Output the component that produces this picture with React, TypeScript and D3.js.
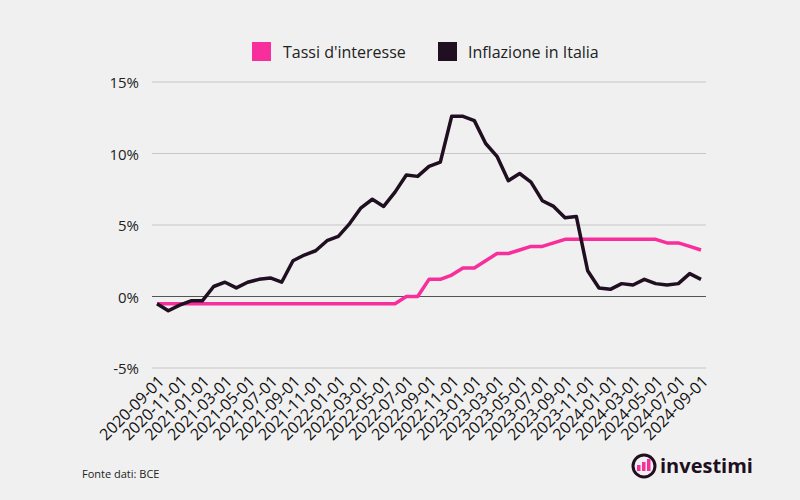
import * as d3 from 'd3';

const DATES = [
  '2020-09-01', '2020-10-01', '2020-11-01', '2020-12-01',
  '2021-01-01', '2021-02-01', '2021-03-01', '2021-04-01', '2021-05-01', '2021-06-01',
  '2021-07-01', '2021-08-01', '2021-09-01', '2021-10-01', '2021-11-01', '2021-12-01',
  '2022-01-01', '2022-02-01', '2022-03-01', '2022-04-01', '2022-05-01', '2022-06-01',
  '2022-07-01', '2022-08-01', '2022-09-01', '2022-10-01', '2022-11-01', '2022-12-01',
  '2023-01-01', '2023-02-01', '2023-03-01', '2023-04-01', '2023-05-01', '2023-06-01',
  '2023-07-01', '2023-08-01', '2023-09-01', '2023-10-01', '2023-11-01', '2023-12-01',
  '2024-01-01', '2024-02-01', '2024-03-01', '2024-04-01', '2024-05-01', '2024-06-01',
  '2024-07-01', '2024-08-01', '2024-09-01',
];

// Tassi d'interesse (BCE)
const RATES = [
  -0.5, -0.5, -0.5, -0.5,
  -0.5, -0.5, -0.5, -0.5, -0.5, -0.5, -0.5, -0.5, -0.5, -0.5, -0.5, -0.5,
  -0.5, -0.5, -0.5, -0.5, -0.5, -0.5, 0, 0, 1.2, 1.2, 1.5, 2.0,
  2.0, 2.5, 3.0, 3.0, 3.25, 3.5, 3.5, 3.75, 4.0, 4.0, 4.0, 4.0,
  4.0, 4.0, 4.0, 4.0, 4.0, 3.75, 3.75, 3.5, 3.25,
];

// Inflazione in Italia
const INFLATION = [
  -0.5, -1.0, -0.6, -0.3,
  -0.3, 0.7, 1.0, 0.6, 1.0, 1.2, 1.3, 1.0, 2.5, 2.9, 3.2, 3.9,
  4.2, 5.1, 6.2, 6.8, 6.3, 7.3, 8.5, 8.4, 9.1, 9.4, 12.6, 12.6,
  12.3, 10.7, 9.8, 8.1, 8.6, 8.0, 6.7, 6.3, 5.5, 5.6, 1.8, 0.6,
  0.5, 0.9, 0.8, 1.2, 0.9, 0.8, 0.9, 1.6, 1.2,
];

const Y_TICKS = [-5, 0, 5, 10, 15];

const PINK = '#f72e9c';
const DARK = '#200e21';
const FONT = "'Open Sans', 'Noto Sans', sans-serif";

export default function App() {
  const width = 800;
  const height = 500;

  const x = d3.scalePoint<string>().domain(DATES).range([157, 701]);
  const y = d3.scaleLinear().domain([-5, 15]).range([368, 82]);

  const gridLeft = 152;
  const gridRight = 706;

  const line = d3.line<number>()
    .x((_, i) => x(DATES[i]) ?? 0)
    .y(d => y(d));

  // every other month gets a label
  const xTicks = DATES.filter((_, i) => i % 2 === 0);

  return (
    <svg
      width={width}
      height={height}
      style={{ position: 'absolute', left: 0, top: 0, background: '#f0f0f0', fontFamily: FONT }}
    >
      {/* legend */}
      <g>
        <rect x={252} y={42} width={19} height={19} fill={PINK} />
        <text x={283} y={52} dominantBaseline="central" fontSize={16} fill="#222">Tassi d'interesse</text>
        <rect x={438} y={42} width={19} height={19} fill={DARK} />
        <text x={468} y={52} dominantBaseline="central" fontSize={16} fill="#222">Inflazione in Italia</text>
      </g>

      {/* grid + y labels */}
      {Y_TICKS.map(t => (
        <g key={t}>
          <line
            x1={gridLeft}
            x2={gridRight}
            y1={y(t)}
            y2={y(t)}
            stroke={t === 0 ? '#555' : '#c6c6c6'}
            strokeWidth={1}
          />
          <text
            x={139}
            y={y(t)}
            textAnchor="end"
            dominantBaseline="central"
            fontSize={15}
            fill="#222"
          >
            {`${t}%`}
          </text>
        </g>
      ))}

      {/* x labels */}
      {xTicks.map(d => (
        <text
          key={d}
          transform={`translate(${(x(d) ?? 0) + 4},${378}) rotate(-45)`}
          textAnchor="end"
          dominantBaseline="central"
          fontSize={16}
          fill="#111"
        >
          {d}
        </text>
      ))}

      {/* series */}
      <path d={line(RATES) ?? ''} fill="none" stroke={PINK} strokeWidth={3.5} strokeLinejoin="round" />
      <path d={line(INFLATION) ?? ''} fill="none" stroke={DARK} strokeWidth={3.5} strokeLinejoin="round" />

      {/* footer */}
      <text x={82} y={473} dominantBaseline="central" fontSize={11} fill="#222">Fonte dati: BCE</text>

      {/* logo */}
      <g>
        <circle cx={644} cy={466} r={11} fill="none" stroke={DARK} strokeWidth={3} />
        <rect x={637} y={465} width={3.5} height={6} fill={PINK} />
        <rect x={642} y={462} width={3.5} height={9} fill={PINK} />
        <rect x={647} y={459} width={3.5} height={12} fill={PINK} />
        <text x={660} y={465} dominantBaseline="central" fontSize={20} fontWeight={700} fill={DARK}>investimi</text>
      </g>
    </svg>
  );
}
